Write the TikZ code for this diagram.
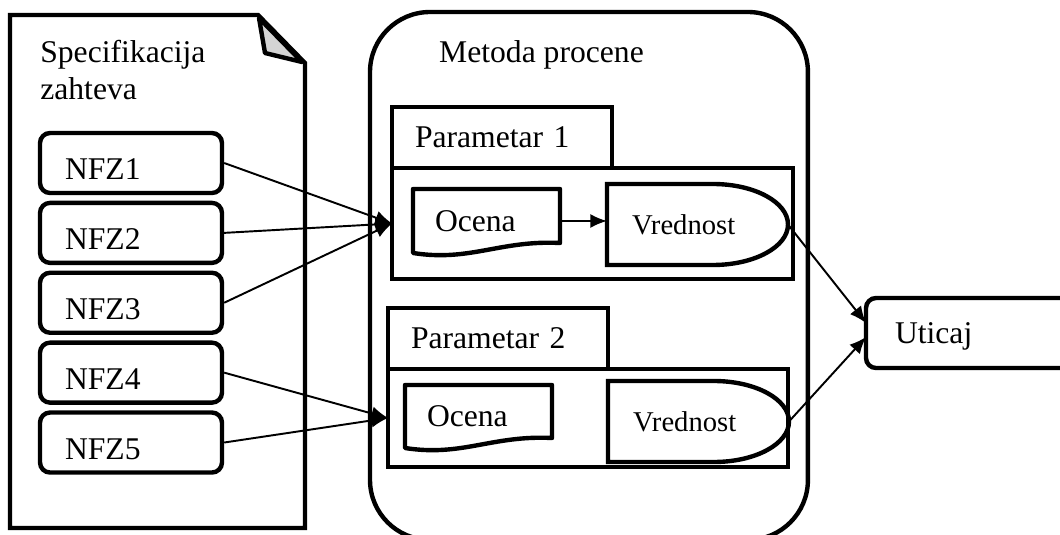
\documentclass[tikz,border=0pt]{standalone}
\usepackage{fontspec}
\setmainfont{Liberation Serif}
\usetikzlibrary{arrows.meta,positioning}
\definecolor{foldgray}{RGB}{212,212,212}
\tikzstyle{heavy}=[line width=2.5pt]
\tikzstyle{nfz}=[draw, heavy, rounded corners=0.2cm, minimum width=3.64cm, minimum height=1.2cm, inner xsep=0.5cm, text width=2.64cm, align=left, text height=19pt, text depth=0pt]
\tikzstyle{tab}=[draw, heavy, minimum width=4.4cm, minimum height=1.22cm, inner xsep=0.46cm, text width=3.48cm, align=left, anchor=north west, outer sep=0pt, text depth=0pt]
\tikzstyle{panel}=[draw, heavy, anchor=north west, outer sep=0pt]
\tikzstyle{ocena}=[minimum width=2.94cm, minimum height=1.28cm, inner xsep=0.44cm, text width=2.06cm, align=left, anchor=north west, outer sep=0pt, text depth=0pt]
\tikzstyle{vred}=[minimum width=3.62cm, minimum height=1.62cm, inner xsep=0.5cm, text width=2.62cm, align=left, anchor=north west, outer sep=0pt, text depth=0pt, font=\fontsize{16.3}{19}\selectfont]
\tikzstyle{link}=[-{Latex[length=9.5pt,width=8pt]}, line width=1.1pt]

\begin{document}
\begin{tikzpicture}[x=0.02cm,y=-0.02cm,font=\fontsize{18}{21}\selectfont]
    \useasboundingbox (0,0) rectangle (1060,534);
    % requirements document
    \draw[heavy] (10,15) -- (258,15) -- (305,63) -- (305,528) -- (10,528) -- cycle;
    \draw[heavy, fill=foldgray, line join=round] (259,18) -- (265,53) -- (302,62) -- cycle;
    \node[anchor=north west, align=left, inner sep=0pt] (speclbl) at (40,40) {Specifikacija\\zahteva};
    \node[nfz] (nfz1) at (131,163) {NFZ1};
    \node[nfz] (nfz2) [below=0.11cm of nfz1] {NFZ2};
    \node[nfz] (nfz3) [below=0.11cm of nfz2] {NFZ3};
    \node[nfz] (nfz4) [below=0.11cm of nfz3] {NFZ4};
    \node[nfz] (nfz5) [below=0.11cm of nfz4] {NFZ5};
    % method
    \node[draw, heavy, rounded corners=1.2cm, minimum width=8.76cm, minimum height=10.56cm, anchor=north west, outer sep=0pt] (metoda) at (370,12) {};
    \node[anchor=base west] (metodalbl) at (433,62) {Metoda procene};
    \node[tab] (par1) at (392,107) {Parametar 1};
    \node[panel, minimum width=8.02cm, minimum height=2.22cm] (pan1) at (par1.south west) {};
    \node[tab] (par2) at (388,308) {Parametar 2};
    \node[panel, minimum width=8.0cm, minimum height=1.96cm] (pan2) at (par2.south west) {};
    \node[ocena] (oc1) at (413,189) {Ocena};
    \draw[heavy, line join=round] (oc1.north west) -- (oc1.north east) -- ([yshift=0.2cm]oc1.south east) .. controls +(-60,-3) and +(57,9) .. (oc1.south west) -- cycle;
    \node[ocena, minimum height=1.26cm] (oc2) at (405,385) {Ocena};
    \draw[heavy, line join=round] (oc2.north west) -- (oc2.north east) -- ([yshift=0.2cm]oc2.south east) .. controls +(-60,-3) and +(57,9) .. (oc2.south west) -- cycle;
    \node[vred] (vr1) at (607,184) {Vrednost};
    \draw[heavy] (vr1.north west) -- ++(106,0) arc[start angle=90, end angle=-90, x radius=1.5cm, y radius=0.81cm] -- (vr1.south west) -- cycle;
    \node[vred] (vr2) at (608,381) {Vrednost};
    \draw[heavy] (vr2.north west) -- ++(106,0) arc[start angle=90, end angle=-90, x radius=1.5cm, y radius=0.81cm] -- (vr2.south west) -- cycle;
    % result
    \node[draw, heavy, rounded corners=0.2cm, anchor=west, minimum height=1.4cm, inner xsep=0.58cm, text width=4.5cm, align=left, outer sep=0pt, text depth=0pt] (uticaj) at (866,333) {Uticaj};
    \draw[link] (nfz1.east) -- (pan1.west);
    \draw[link] (nfz2.east) -- (pan1.west);
    \draw[link] (nfz3.east) -- (pan1.west);
    \draw[link] (nfz4.east) -- (pan2.west);
    \draw[link] (nfz5.east) -- (pan2.west);
    \draw[link] (oc1.east) -- (oc1.east -| vr1.west);
    \draw[link] (vr1.east) -- ([yshift=0.2cm]uticaj.west);
    \draw[link] (vr2.east) -- ([yshift=-0.08cm]uticaj.west);
\end{tikzpicture}
\end{document}
